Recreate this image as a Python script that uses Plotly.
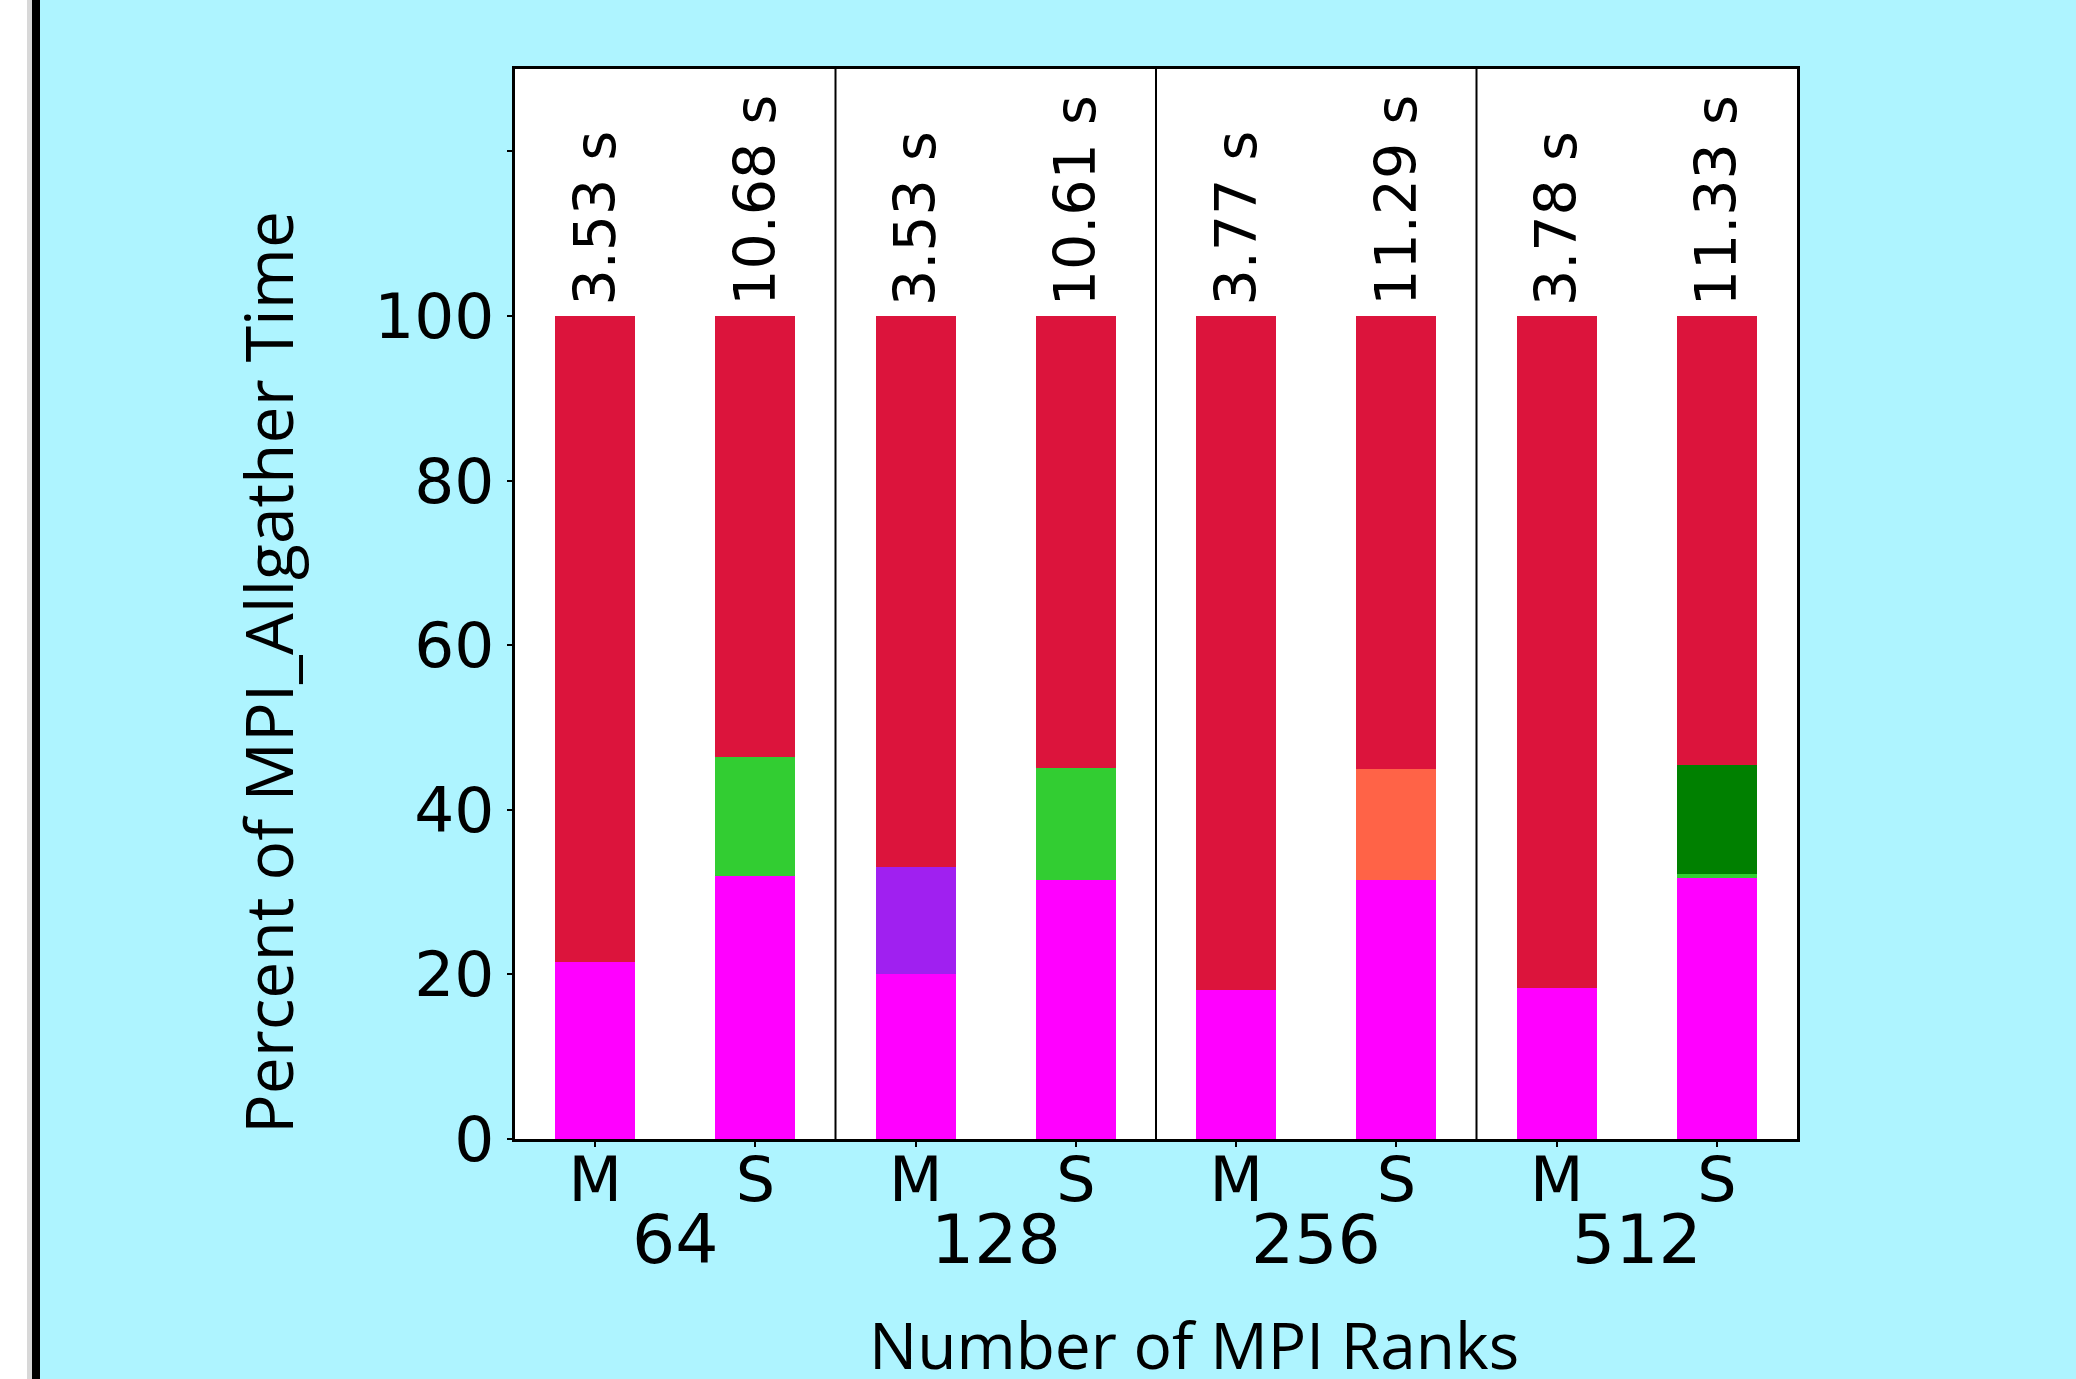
import plotly.graph_objects as go

# ---- data ----
ranks = ["64", "128", "256", "512"]
variants = ["M", "S"]
bars = [f"{r} {v}" for r in ranks for v in variants]
bar_kind = [v for r in ranks for v in variants]
times_s = [3.53, 10.68, 3.53, 10.61, 3.77, 11.29, 3.78, 11.33]

seg_magenta = [21.5, 32.0, 20.1, 31.5, 18.1, 31.5, 18.4, 31.7]
seg_lime = [0.0, 14.4, 0.0, 13.6, 0.0, 0.0, 0.0, 0.5]
seg_purple = [0.0, 0.0, 12.9, 0.0, 0.0, 0.0, 0.0, 0.0]
seg_tomato = [0.0, 0.0, 0.0, 0.0, 0.0, 13.5, 0.0, 0.0]
seg_green = [0.0, 0.0, 0.0, 0.0, 0.0, 0.0, 0.0, 13.2]
seg_crimson = [78.5, 53.6, 67.0, 54.9, 81.9, 55.0, 81.6, 54.6]

y_ticks = [0, 20, 40, 60, 80, 100, 120]
y_ticktext = ["0", "20", "40", "60", "80", "100", ""]

series = [
    ("seg_magenta", seg_magenta, "#FF00FF"),
    ("seg_lime", seg_lime, "#32CD32"),
    ("seg_purple", seg_purple, "#A020F0"),
    ("seg_tomato", seg_tomato, "#FF6347"),
    ("seg_green", seg_green, "#008000"),
    ("seg_crimson", seg_crimson, "#DC143C"),
]

W, H = 2076, 1379
L, R, T, B = 515, 279, 69, 240
PW, PH = W - L - R, H - T - B

def px_x(p):
    return (p - L) / PW

def px_y(p):
    return (H - B - p) / PH

fig = go.Figure()
for name, vals, col in series:
    fig.add_trace(go.Bar(x=bars, y=vals, name=name, marker_color=col,
                         marker_line_width=0, showlegend=False))

fig.update_layout(
    width=W, height=H,
    margin=dict(l=L, r=R, t=T, b=B, pad=0),
    barmode="stack", bargap=0.5,
    paper_bgcolor="#AEF4FF", plot_bgcolor="white",
    font=dict(family="DejaVu Sans", color="black"),
)

fig.update_xaxes(
    type="category", tickvals=bars, ticktext=bar_kind,
    tickfont=dict(size=62, family="DejaVu Sans"),
    ticks="outside", ticklen=5, tickwidth=1.5, tickcolor="black",
    ticklabelstandoff=-20,
    showline=True, linewidth=3, linecolor="black", mirror=True,
    showgrid=False, range=[-0.5, len(bars) - 0.5],
)
fig.update_yaxes(
    range=[0, 130], tickvals=y_ticks, ticktext=y_ticktext,
    tickfont=dict(size=63, family="DejaVu Sans"),
    ticks="outside", ticklen=5, tickwidth=1.5, tickcolor="black",
    showline=True, linewidth=3, linecolor="black", mirror=True,
    showgrid=False, zeroline=False,
)

# group dividers
for i in range(1, len(ranks)):
    xpos = i * len(variants) - 0.5
    fig.add_shape(type="line", xref="x", yref="paper", x0=xpos, x1=xpos,
                  y0=0, y1=1, line=dict(color="black", width=2))

# total time labels above bars
totals = [sum(v) for v in zip(*[s[1] for s in series])]
for b, t, tot in zip(bars, times_s, totals):
    fig.add_annotation(x=b, y=tot, xref="x", yref="y", text=f"{t:.2f} s",
                       textangle=-90, showarrow=False, yanchor="bottom",
                       xanchor="center", yshift=8,
                       font=dict(size=57, family="DejaVu Sans", color="black"))

# group labels (number of ranks)
for i, r in enumerate(ranks):
    fig.add_annotation(x=i * len(variants) + 0.5, y=0, xref="x", yref="paper",
                       text=r, showarrow=False, yanchor="middle", yshift=-100,
                       font=dict(size=68, family="DejaVu Sans", color="black"))

# axis titles
fig.add_annotation(x=px_x(1194), y=px_y(1344), xref="paper", yref="paper",
                   text="Number of MPI Ranks", showarrow=False,
                   xanchor="center", yanchor="middle",
                   font=dict(size=64, family="Open Sans", color="black"))
fig.add_annotation(x=px_x(267), y=px_y(673), xref="paper", yref="paper",
                   text="Percent of MPI_Allgather Time", showarrow=False,
                   textangle=-90, xanchor="center", yanchor="middle",
                   font=dict(size=66, family="Open Sans", color="black"))

# page-edge decoration (white strip and black border at left)
fig.add_shape(type="rect", xref="paper", yref="paper", x0=px_x(0), x1=px_x(27),
              y0=px_y(H), y1=px_y(0), fillcolor="white", line_width=0, layer="below")
fig.add_shape(type="rect", xref="paper", yref="paper", x0=px_x(27), x1=px_x(32),
              y0=px_y(H), y1=px_y(0), fillcolor="#D8D8D8", line_width=0, layer="below")
fig.add_shape(type="rect", xref="paper", yref="paper", x0=px_x(32), x1=px_x(40),
              y0=px_y(H), y1=px_y(0), fillcolor="black", line_width=0, layer="below")

fig.write_html("out.html", config={"displayModeBar": False},
               post_script="document.body.style.margin='0';")
